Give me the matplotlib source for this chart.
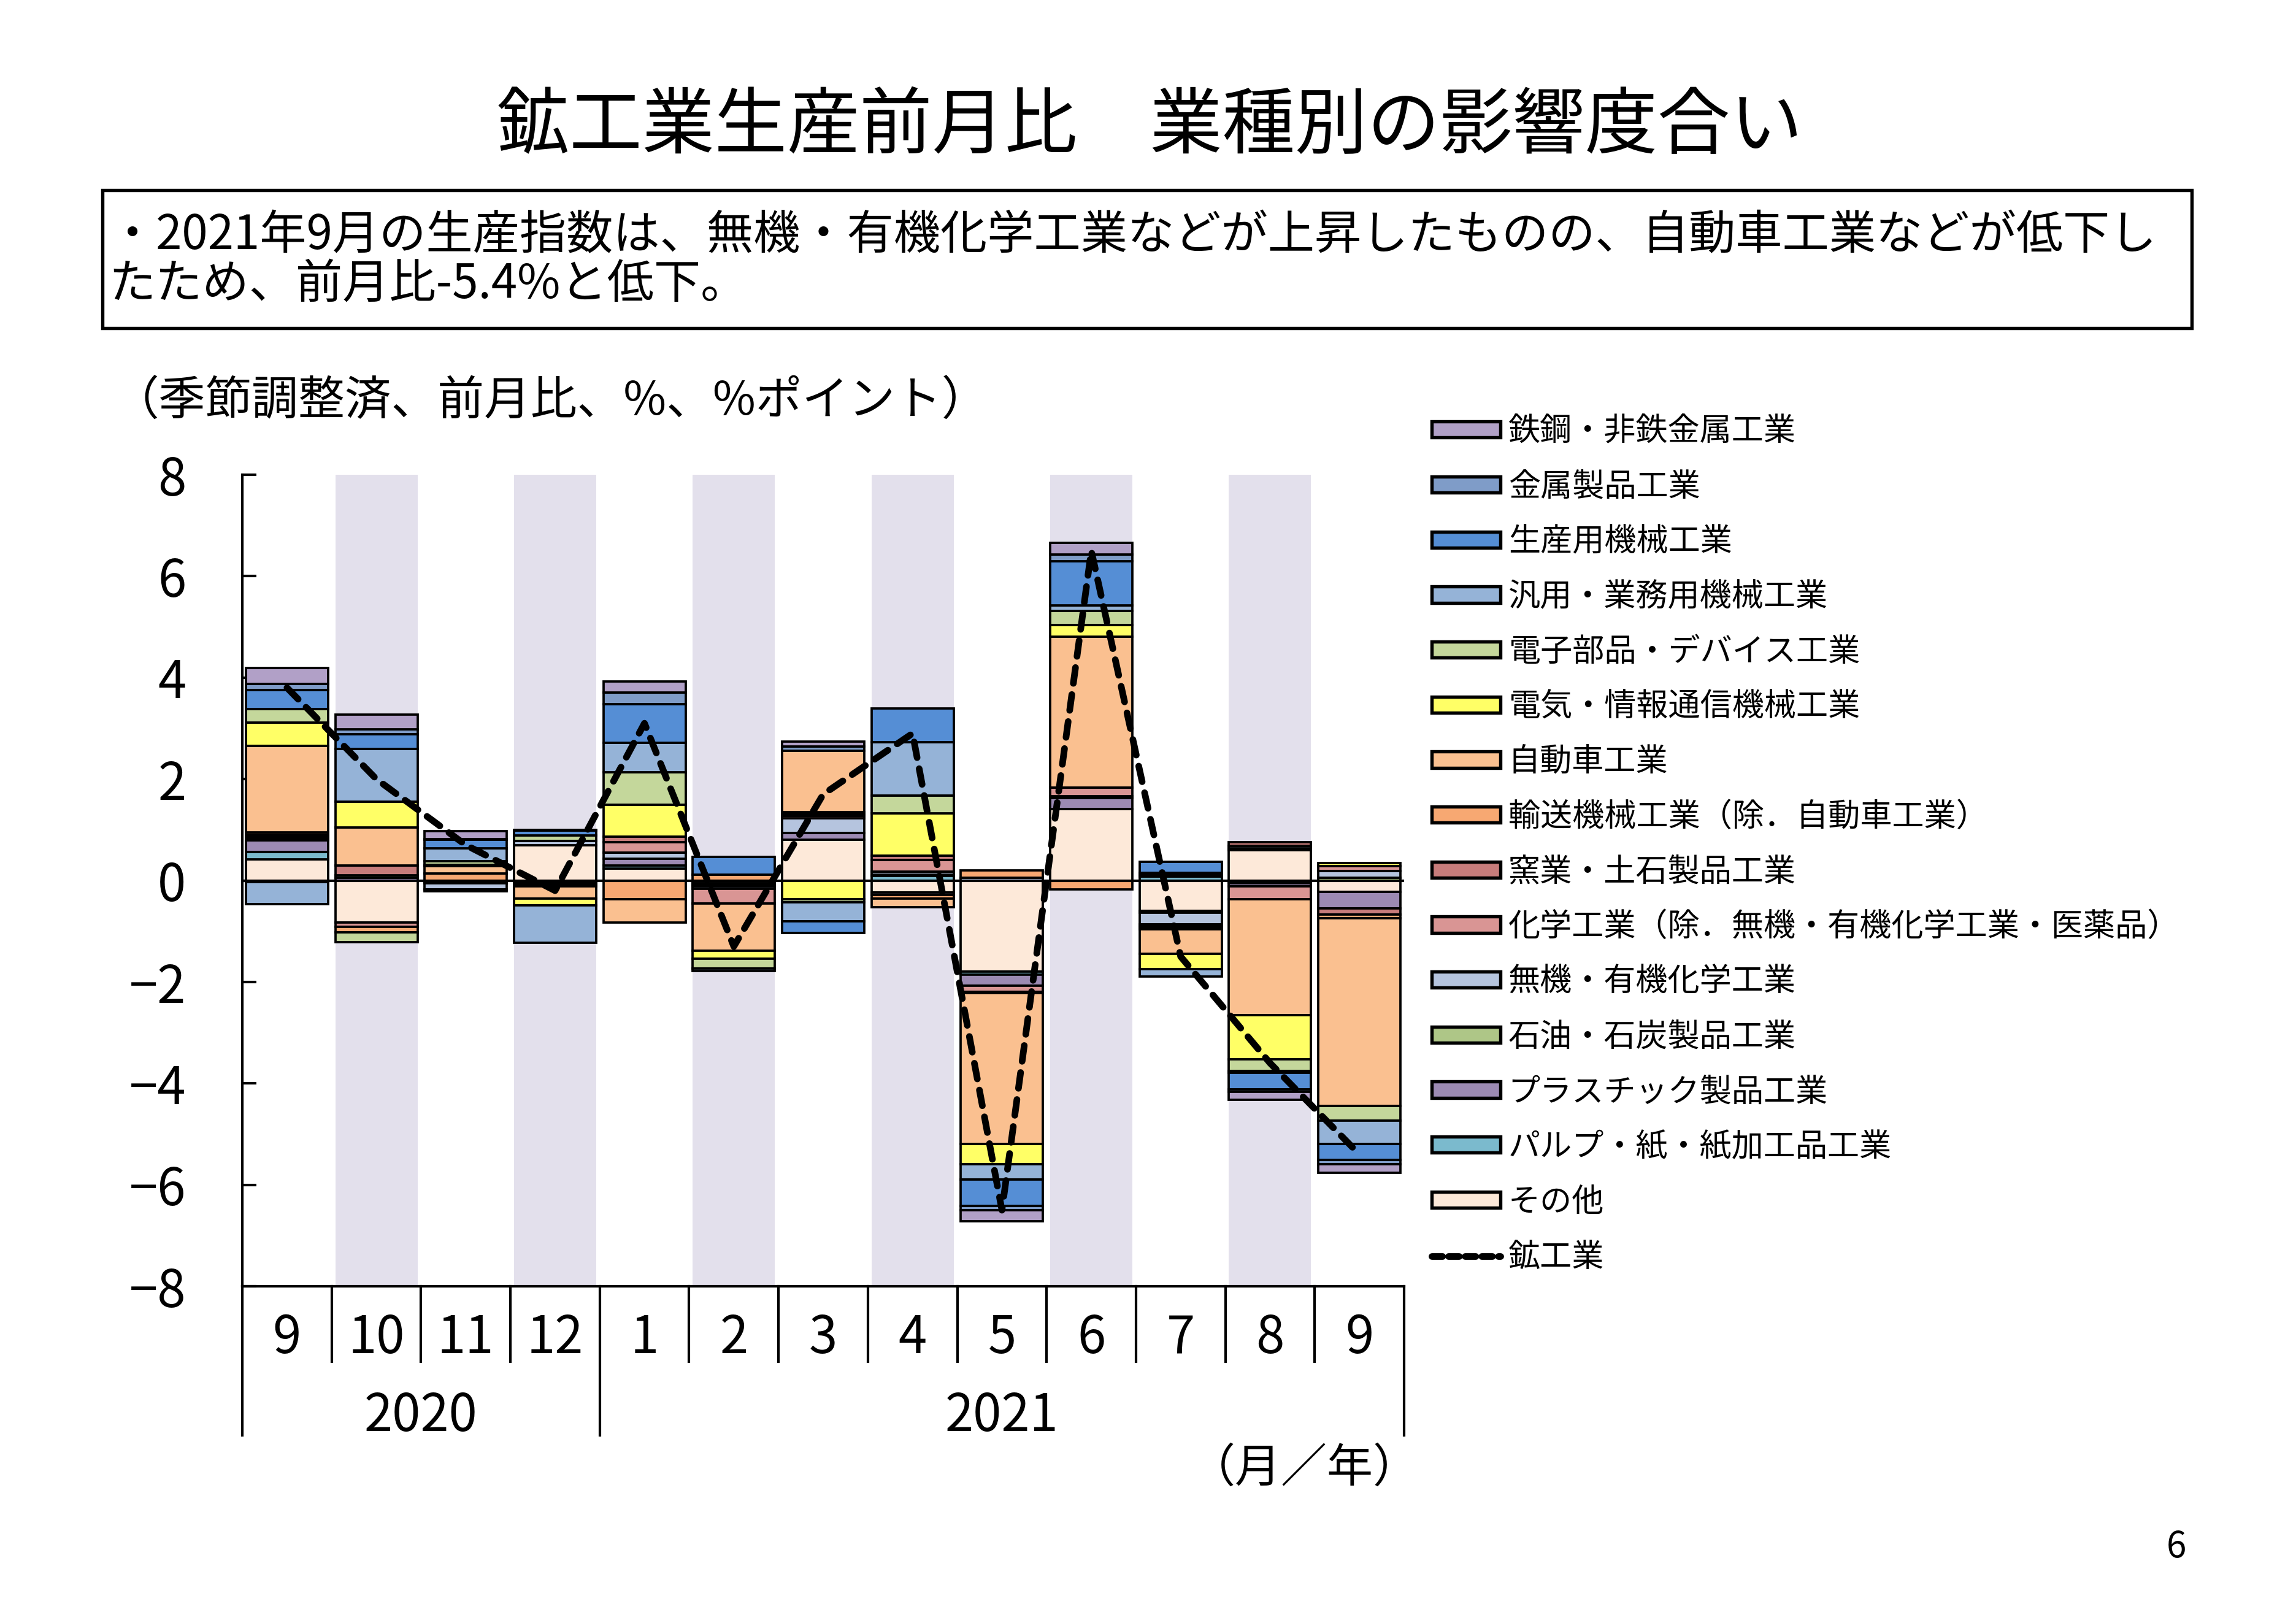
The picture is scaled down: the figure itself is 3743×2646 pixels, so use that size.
import matplotlib
matplotlib.use("Agg")
import matplotlib.pyplot as plt
from matplotlib.patches import Patch, Rectangle
from matplotlib.lines import Line2D
import numpy as np

plt.rcParams['font.family'] = ['Noto Sans CJK JP', 'DejaVu Sans']

# months (Sep 2020 - Sep 2021)
months = ['9', '10', '11', '12', '1', '2', '3', '4', '5', '6', '7', '8', '9']
years = ['2020', '2021']

# contribution by industry (%pt), stacked from zero outward in this order
sonota   = [0.42, -0.83, -0.03, 0.69, 0.24, -0.05, 0.81, -0.24, -1.80, 1.41, -0.60, 0.60, -0.22]
pulp     = [0.14, 0.00, 0.00, 0.00, 0.06, 0.00, 0.00, 0.09, -0.06, 0.00, 0.08, -0.06, 0.00]
plastic  = [0.23, 0.05, -0.03, -0.03, 0.13, -0.04, 0.13, -0.04, -0.22, 0.22, -0.04, -0.06, -0.33]
sekiyu   = [0.04, 0.05, 0.00, 0.00, 0.00, -0.03, 0.00, 0.03, 0.00, 0.03, 0.03, 0.04, 0.06]
muki     = [-0.03, 0.00, -0.12, 0.09, 0.12, -0.04, 0.29, 0.05, 0.06, 0.00, -0.22, 0.04, 0.13]
kagaku   = [0.04, -0.08, -0.03, -0.04, 0.21, -0.29, 0.04, 0.23, -0.12, 0.17, -0.04, -0.25, 0.09]
yogyo    = [0.03, 0.20, 0.00, -0.02, 0.10, 0.00, 0.04, 0.09, -0.02, 0.00, -0.03, 0.07, -0.12]
yuso     = [0.05, -0.11, 0.14, -0.03, -0.37, 0.12, 0.04, -0.08, 0.14, -0.18, -0.03, 0.00, -0.07]
jidosha  = [1.70, 0.75, 0.14, -0.24, -0.46, -0.94, 1.21, -0.17, -2.97, 2.98, -0.48, -2.28, -3.71]
denki    = [0.47, 0.50, 0.03, -0.13, 0.63, -0.15, -0.37, 0.83, -0.40, 0.23, -0.31, -0.88, 0.06]
denshi   = [0.26, -0.20, 0.07, 0.11, 0.65, -0.19, -0.06, 0.35, 0.00, 0.27, 0.04, -0.23, -0.29]
hanyo    = [-0.43, 1.05, 0.26, -0.74, 0.57, -0.05, -0.37, 1.06, -0.31, 0.12, -0.14, -0.03, -0.46]
seisan   = [0.38, 0.28, 0.16, 0.09, 0.77, 0.34, -0.24, 0.66, -0.52, 0.86, 0.22, -0.33, -0.31]
kinzoku  = [0.11, 0.10, 0.02, 0.02, 0.23, 0.00, 0.08, 0.00, -0.08, 0.14, 0.00, -0.05, -0.08]
tekko    = [0.32, 0.29, 0.15, 0.00, 0.21, 0.00, 0.10, 0.00, -0.22, 0.23, 0.00, -0.15, -0.17]

# mining & manufacturing total (%)
kokogyo = [3.8, 2.0, 0.7, -0.2, 3.1, -1.3, 1.7, 2.9, -6.5, 6.5, -1.5, -3.6, -5.4]

series = [
    ('その他', sonota, '#fde9d9'),
    ('パルプ・紙・紙加工品工業', pulp, '#7bbacd'),
    ('プラスチック製品工業', plastic, '#9c8ab3'),
    ('石油・石炭製品工業', sekiyu, '#aec687'),
    ('無機・有機化学工業', muki, '#b5c4de'),
    ('化学工業（除．無機・有機化学工業・医薬品）', kagaku, '#d99594'),
    ('窯業・土石製品工業', yogyo, '#c77c7b'),
    ('輸送機械工業（除．自動車工業）', yuso, '#f7a872'),
    ('自動車工業', jidosha, '#fac090'),
    ('電気・情報通信機械工業', denki, '#ffff66'),
    ('電子部品・デバイス工業', denshi, '#c4d79b'),
    ('汎用・業務用機械工業', hanyo, '#95b3d7'),
    ('生産用機械工業', seisan, '#558ed5'),
    ('金属製品工業', kinzoku, '#7f9cc8'),
    ('鉄鋼・非鉄金属工業', tekko, '#b1a0c7'),
]

W, H = 3743, 2646
fig = plt.figure(figsize=(W / 300, H / 300), dpi=300)
ax = fig.add_axes([395 / W, 1 - 2097 / H, (2289 - 395) / W, (2097 - 774) / H])

x = np.arange(len(months))
bw = 0.92

# shaded bands on every other month
for i in x[1::2]:
    ax.axvspan(i - bw / 2, i + bw / 2, color='#e3e0ec', lw=0, zorder=0)

pos = np.zeros(len(x))
neg = np.zeros(len(x))
handles = {}
for name, vals, col in series:
    v = np.array(vals)
    bottom = np.where(v >= 0, pos, neg)
    m = v != 0
    ax.bar(x[m], v[m], bottom=bottom[m], width=bw, color=col,
           edgecolor='black', linewidth=0.9, zorder=2)
    pos = pos + np.where(v > 0, v, 0)
    neg = neg + np.where(v < 0, v, 0)
    handles[name] = Patch(facecolor=col, edgecolor='black', linewidth=1.3)

ax.axhline(0, color='black', lw=1.0, zorder=3)
ax.plot(x, kokogyo, color='black', lw=2.6, linestyle=(0, (2.4, 1.7)),
        dash_capstyle='round', zorder=4)

ax.set_xlim(-0.5, len(x) - 0.5)
ax.set_ylim(-8, 8)
ax.set_yticks(range(-8, 9, 2))
ax.tick_params(axis='y', direction='in', length=5.5, width=1.0, labelsize=20, pad=22)
ax.set_xticks([])
for s in ['top', 'right']:
    ax.spines[s].set_visible(False)
ax.spines['left'].set_linewidth(1.0)
ax.spines['bottom'].set_linewidth(1.0)

# category axis: months, years and separators
tr = ax.get_xaxis_transform()
for i, mth in enumerate(months):
    ax.text(i, -0.064, mth, transform=tr, ha='center', va='center', fontsize=20)
for b in np.arange(-0.5, len(x), 1.0):
    low = -0.184 if b in (-0.5, 3.5, len(x) - 0.5) else -0.093
    ax.plot([b, b], [0, low], transform=tr, color='black', lw=1.0, clip_on=False)
ax.text(1.5, -0.160, years[0], transform=tr, ha='center', va='center', fontsize=20)
ax.text(8.0, -0.160, years[1], transform=tr, ha='center', va='center', fontsize=20)

# legend (top item = top of stack)
leg_names = [s[0] for s in series][::-1]
leg_handles = [handles[n] for n in leg_names]
leg_handles.append(Line2D([], [], color='black', lw=2.6, linestyle=(0, (1.6, 0.9)),
                          dash_capstyle='round'))
leg_names.append('鉱工業')
fig.legend(leg_handles, leg_names, loc='upper left', bbox_to_anchor=(0.6235, 0.744),
           frameon=False, fontsize=12.5, handlelength=2.15, handleheight=0.4,
           handletextpad=0.25, labelspacing=0.695, borderpad=0, borderaxespad=0)

# title and text box
fig.text(0.5007, 0.9215, '鉱工業生産前月比　業種別の影響度合い', ha='center', va='center',
         fontsize=28.4)
fig.patches.append(Rectangle((167 / W, 1 - 535 / H), (3573 - 167) / W, 225 / H,
                             transform=fig.transFigure, fill=False, lw=1.3, ec='black'))
fig.text(0.0475, 0.8545,
         '・2021年9月の生産指数は、無機・有機化学工業などが上昇したものの、自動車工業などが低下し',
         ha='left', va='center', fontsize=18.3)
fig.text(0.0475, 0.8245, 'たため、前月比-5.4%と低下。', ha='left', va='center', fontsize=18.3)

fig.text(0.049, 0.7525, '（季節調整済、前月比、%、%ポイント）', ha='left', va='center', fontsize=18.2)
fig.text(0.568, 0.095, '（月／年）', ha='center', va='center', fontsize=18)
fig.text(0.948, 0.0465, '6', ha='center', va='center', fontsize=14)

fig.savefig('out.png', dpi=300)
